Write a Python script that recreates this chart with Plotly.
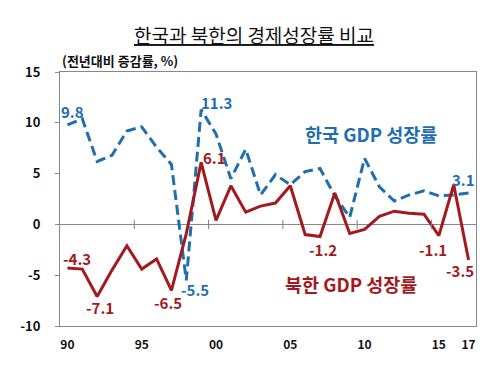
import plotly.graph_objects as go

years = list(range(1990, 2018))
south = [9.8, 10.4, 6.2, 6.8, 9.2, 9.6, 7.6, 5.9, -5.5, 11.3, 8.9, 4.5, 7.4, 2.9,
         4.9, 3.9, 5.2, 5.5, 2.8, 0.7, 6.5, 3.7, 2.3, 2.9, 3.3, 2.8, 2.9, 3.1]
north = [-4.3, -4.4, -7.1, -4.5, -2.1, -4.4, -3.4, -6.5, -0.9, 6.1, 0.4, 3.8, 1.2, 1.8,
         2.1, 3.8, -1.0, -1.2, 3.1, -0.9, -0.5, 0.8, 1.3, 1.1, 1.0, -1.1, 3.9, -3.5]
tick_years = [1990, 1995, 2000, 2005, 2010, 2015, 2017]
tick_text = ["90", "95", "00", "05", "10", "15", "17"]
boundary_ticks = [1994.5, 1999.5, 2004.5, 2009.5, 2014.5]

# labelled points: (year, xshift, yshift)
south_labels = [(1990, 5, 13), (1999, 15, 7), (1998, 9, -9), (2017, -5, 13)]
north_labels = [(1990, 10, 10), (1992, 3, -11), (1997, -3, -12), (1999, 13, 5),
                (2007, 3, -13), (2015, -6, -14), (2017, -9, -11)]

BLUE = "#1F6EAF"
RED = "#A31A1E"
FONT = "Noto Sans CJK KR"

fig = go.Figure()
fig.add_trace(go.Scatter(x=years, y=south, mode="lines",
                         line=dict(color=BLUE, width=3, dash="10px,5px"),
                         name="한국 GDP 성장률", hoverinfo="x+y"))
fig.add_trace(go.Scatter(x=years, y=north, mode="lines",
                         line=dict(color=RED, width=3),
                         name="북한 GDP 성장률", hoverinfo="x+y"))

ann = []
for yr, xs, ys in south_labels:
    v = south[years.index(yr)]
    ann.append(dict(x=yr, y=v, text=f"<b>{v:.1f}</b>", showarrow=False,
                    xshift=xs, yshift=ys, font=dict(family=FONT, size=15, color=BLUE)))
for yr, xs, ys in north_labels:
    v = north[years.index(yr)]
    ann.append(dict(x=yr, y=v, text=f"<b>{v:.1f}</b>", showarrow=False,
                    xshift=xs, yshift=ys, font=dict(family=FONT, size=15, color=RED)))

ann.append(dict(x=0.748, y=0.755, xref="paper", yref="paper", xanchor="center", yanchor="middle",
                text="<b>한국 GDP 성장률</b>",
                showarrow=False, font=dict(family=FONT, size=18.5, color=BLUE)))
ann.append(dict(x=0.700, y=0.165, xref="paper", yref="paper", xanchor="center", yanchor="middle",
                text="<b>북한 GDP 성장률</b>",
                showarrow=False, font=dict(family=FONT, size=18.5, color=RED)))
ann.append(dict(x=0.466, y=1.0, xref="paper", yref="paper", xanchor="center", yanchor="bottom",
                yshift=22, text="<u>한국과 북한의 경제성장률 비교</u>",
                showarrow=False, font=dict(family=FONT, size=19, color="#111")))
ann.append(dict(x=0.0, y=1.0, xref="paper", yref="paper", xanchor="left", yanchor="bottom",
                text="<b>(전년대비 증감률, %)</b>", showarrow=False, yshift=0,
                font=dict(family=FONT, size=13, color="#111")))

shapes = [dict(type="line", xref="x", yref="y", x0=b, x1=b, y0=-0.45, y1=0.45,
               line=dict(color="#808080", width=1)) for b in boundary_ticks]

fig.update_layout(
    width=492, height=364,
    margin=dict(l=41, r=24, t=64, b=46),
    paper_bgcolor="white", plot_bgcolor="white",
    showlegend=False,
    annotations=ann, shapes=shapes,
    font=dict(family=FONT, color="#111"),
)
fig.update_xaxes(range=[1989.5, 2017.5], tickvals=tick_years,
                 ticktext=[f"<b>{t}</b>" for t in tick_text],
                 ticks="", showgrid=False, zeroline=False,
                 showline=True, linecolor="#888", linewidth=1, mirror=True,
                 tickfont=dict(family=FONT, size=12, color="#111"),
                 ticklabelstandoff=8)
fig.update_yaxes(range=[-10, 15], tickvals=[-10, -5, 0, 5, 10, 15],
                 ticktext=[f"<b>{v}</b>" for v in [-10, -5, 0, 5, 10, 15]],
                 ticks="outside", ticklen=4, tickcolor="#888",
                 showgrid=False, zeroline=True, zerolinecolor="#888", zerolinewidth=1,
                 showline=True, linecolor="#888", linewidth=1, mirror=True,
                 tickfont=dict(family=FONT, size=13, color="#111"),
                 ticklabelstandoff=12)
fig.write_html("out.html")
